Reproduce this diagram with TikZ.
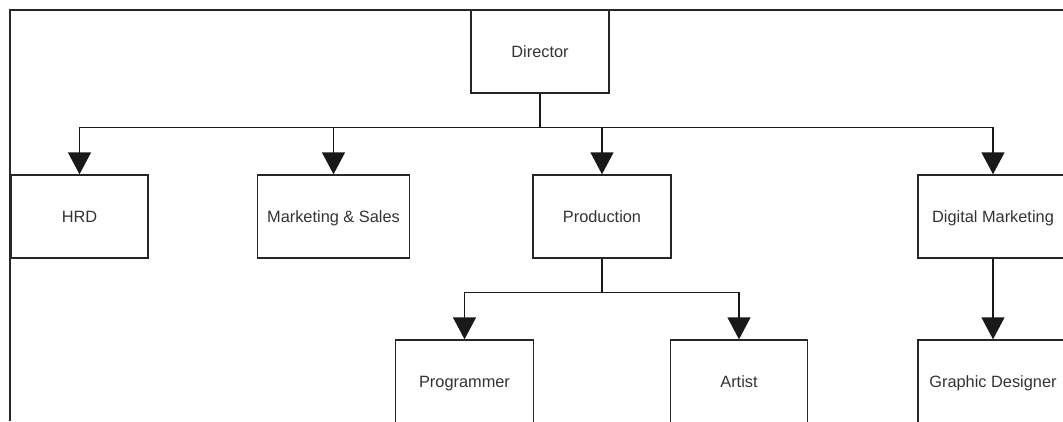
\documentclass[tikz,border=0pt]{standalone}
\usepackage{fontspec}
\setmainfont{Liberation Sans}
\usetikzlibrary{calc}
\usetikzlibrary{arrows.meta}

\begin{document}
\begin{tikzpicture}[x=1pt, y=1pt,
  box/.style={draw=black!85, line width=1.4pt, fill=white, inner sep=0,
    minimum height=83pt, text height=11.7pt, text depth=0pt,
    text=black!80, font=\fontsize{16.35}{19}\selectfont},
  conn/.style={draw=black!90, line width=1.4pt, -{Triangle[length=22pt, width=23pt]}},
  link/.style={draw=black!90, line width=1.4pt}]
\clip (0,0) rectangle (1063,-421);
% outer frame
\draw[black!85, line width=2pt] (1063,-9.5) -| (9.5,-421);
% boxes
\node[box, minimum width=138pt] (dir)  at (540,-51.5)    {Director};
\node[box, minimum width=137pt] (hrd)  at (79.5,-216.5)  {HRD};
\node[box, minimum width=152pt] (mks)  at (333.5,-216.5) {Marketing \& Sales};
\node[box, minimum width=138pt] (prod) at (602,-216.5)   {Production};
\node[box, minimum width=150pt] (dm)   at (993,-216.5)   {Digital Marketing};
\node[box, minimum width=138pt] (prog) at (464.5,-381.5) {Programmer};
\node[box, minimum width=137pt] (art)  at (739,-381.5)   {Artist};
\node[box, minimum width=150pt] (gd)   at (993,-381.5)   {Graphic Designer};
% connectors
\coordinate (top) at ($(dir.south)+(0,-34)$);
\draw[link] (dir.south) -- (top);
\foreach \n in {hrd, mks, prod, dm}
  \draw[conn] (top) -| (\n.north);
\coordinate (mid) at ($(prod.south)+(0,-34)$);
\draw[link] (prod.south) -- (mid);
\foreach \n in {prog, art}
  \draw[conn] (mid) -| (\n.north);
\draw[conn] (dm.south) -- (gd.north);
\end{tikzpicture}
\end{document}
